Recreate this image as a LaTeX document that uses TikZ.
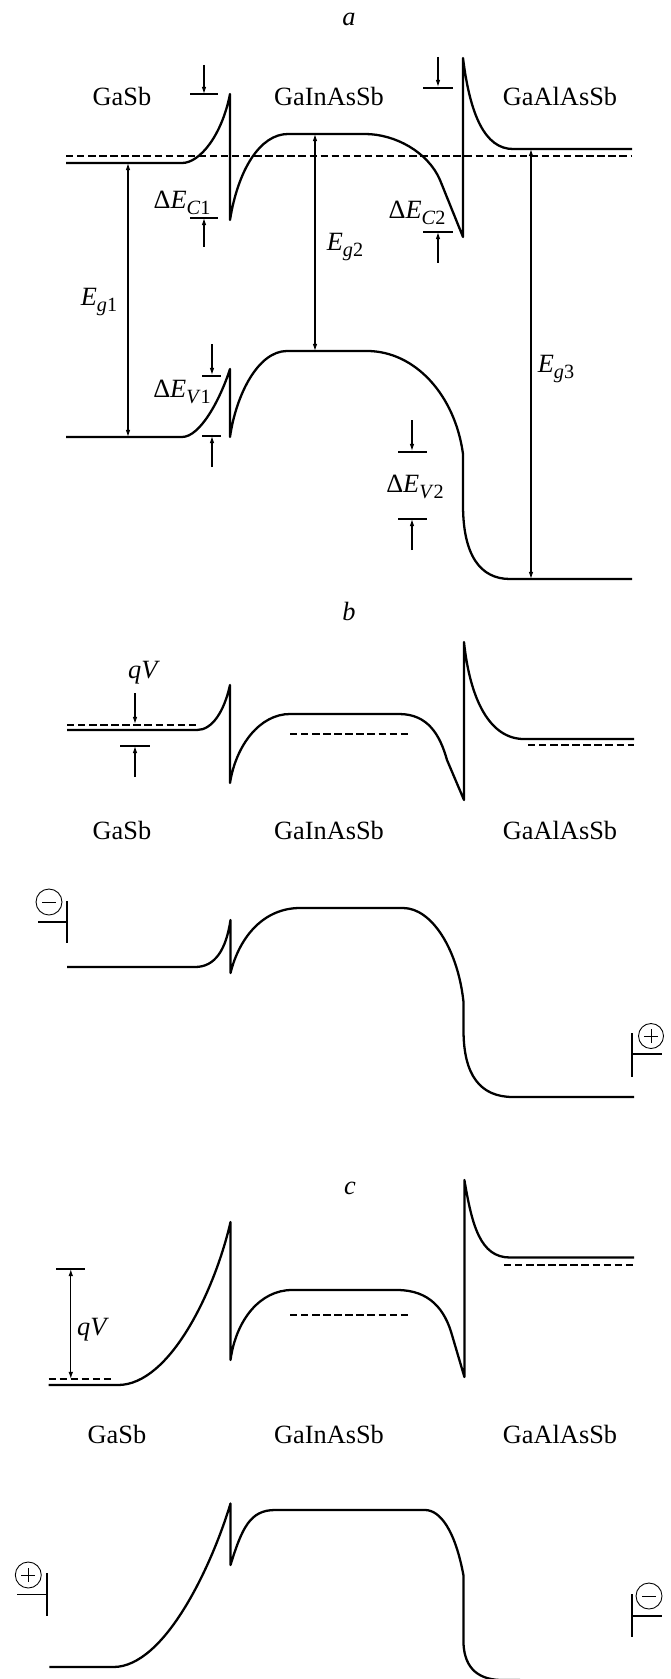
\documentclass[tikz,border=0pt]{standalone}
\usepackage{fontspec}
\setmainfont{Liberation Serif}
\usetikzlibrary{arrows.meta}
\newcommand\mysub[1]{\raisebox{-0.55ex}{\fontsize{11.5}{12}\selectfont #1}}
\begin{document}
\begin{tikzpicture}[x=0.02cm,y=-0.02cm,
  band/.style={line width=1.3pt, line join=round},
  thinl/.style={line width=0.65pt},
  fermi/.style={line width=0.6pt, dash pattern=on 4.2pt off 2.1pt},
  arr/.style={thinl,-{Latex[length=4pt,width=2.6pt]}},
  darr/.style={thinl,{Latex[length=4pt,width=2.6pt]}-{Latex[length=4pt,width=2.6pt]}},
  lbl/.style={font=\fontsize{15}{18}\selectfont, inner sep=0pt},
  ilbl/.style={font=\fontsize{15}{18}\selectfont\itshape, inner sep=0pt},
  bar/.style={line width=1.1pt},
  hbar/.style={line width=0.8pt},
  sign/.style={line width=0.5pt},
]
\useasboundingbox (0,0) rectangle (670,1679);
\clip (0,0) rectangle (670,1679);

% ================= panel a =================
\node[ilbl] (la) at (349,19) {a};
\node[lbl] (a1) at (122,96) {GaSb};
\node[lbl] (a2) at (329,96) {GaInAsSb};
\node[lbl] (a3) at (560,96) {GaAlAsSb};

% conduction band
\draw[band] (66,163) -- (182,163) .. controls (200,163) and (222,135) .. (230,94)
  -- (230,220) .. controls (238,170) and (260,134) .. (288,134) -- (365,134)
  .. controls (395,134) and (428,152) .. (440,180) -- (463,237) -- (463,58)
  .. controls (470,115) and (485,149) .. (513,149) -- (632,149);
\draw[fermi] (66,156) -- (632,156);
% valence band
\draw[band] (66,437) -- (182,437) .. controls (200,437) and (220,400) .. (230,369)
  -- (230,437) .. controls (236,395) and (258,351) .. (287,351) -- (367,351)
  .. controls (415,351) and (455,395) .. (463,454) -- (463,505)
  .. controls (463,555) and (480,579) .. (510,579) -- (632,579);

% Delta E_C1
\draw[arr] (204,65) -- (204,94);
\draw[thinl] (190,94) -- (218,94);
\draw[thinl] (190,218) -- (218,218);
\draw[arr] (204,247) -- (204,218);
\node[lbl] (dec1) at (182,203) {Δ\textit{E}\mysub{\textit{C}1}};
% Delta E_C2
\draw[arr] (438,57) -- (438,87);
\draw[thinl] (423,88) -- (453,88);
\draw[thinl] (423,232) -- (453,232);
\draw[arr] (438,263) -- (438,232);
\node[lbl] (dec2) at (417,213) {Δ\textit{E}\mysub{\textit{C}2}};
% gaps
\draw[darr] (128,163) -- (128,437);
\node[lbl] (eg1) at (99,302) {\textit{E}\mysub{\textit{g}1}};
\draw[darr] (315,134) -- (315,351);
\node[lbl] (eg2) at (345,247) {\textit{E}\mysub{\textit{g}2}};
\draw[darr] (531,149) -- (531,579);
\node[lbl] (eg3) at (556,369) {\textit{E}\mysub{\textit{g}3}};
% Delta E_V1
\draw[arr] (212,344) -- (212,375);
\draw[thinl] (202,376) -- (221,376);
\draw[thinl] (202,436) -- (221,436);
\draw[arr] (212,467) -- (212,436);
\node[lbl] (dev1) at (182,392) {Δ\textit{E}\mysub{\textit{V}1}};
% Delta E_V2
\draw[arr] (412,420) -- (412,451);
\draw[thinl] (398,452) -- (427,452);
\draw[thinl] (398,519) -- (427,519);
\draw[arr] (412,550) -- (412,519);
\node[lbl] (dev2) at (415,487) {Δ\textit{E}\mysub{\textit{V}2}};

% ================= panel b =================
\node[ilbl] (lb) at (349,611) {b};
\draw[fermi] (67,725) -- (197,725);
\draw[band] (67,730) -- (197,730) .. controls (212,730) and (224,712) .. (230,685)
  -- (230,783) .. controls (236,745) and (260,714) .. (290,714) -- (399,714)
  .. controls (428,714) and (440,735) .. (447,760) -- (464,800) -- (464,642)
  .. controls (470,700) and (490,739) .. (524,739) -- (634,739);
\draw[fermi] (290,734) -- (408,734);
\draw[fermi] (528,745) -- (634,745);
\node[lbl] (qv1) at (144,673) {\textit{qV}};
\draw[arr] (135,693) -- (135,724);
\draw[thinl] (120,746) -- (150,746);
\draw[arr] (135,777) -- (135,746);
\node[lbl] (b1) at (122,830) {GaSb};
\node[lbl] (b2) at (329,830) {GaInAsSb};
\node[lbl] (b3) at (560,830) {GaAlAsSb};

% minus contact
\draw[sign] (49,902) circle [radius=0.26cm];
\draw[sign] (42,902) -- (56,902);
\draw[hbar] (38,922) -- (67,922);
\draw[bar] (67,901) -- (67,943);
% plus contact
\draw[sign] (651,1036) circle [radius=0.25cm];
\draw[sign] (644,1036) -- (658,1036) (651,1029) -- (651,1043);
\draw[hbar] (632,1054) -- (662,1054);
\draw[bar] (632,1033) -- (632,1077);
% valence band b
\draw[band] (67,967) -- (195,967) .. controls (215,967) and (226,950) .. (230.5,920)
  -- (230.5,973) .. controls (240,935) and (265,908) .. (300,908) -- (403,908)
  .. controls (432,908) and (458,950) .. (463.5,1002) -- (463.5,1030)
  .. controls (463.5,1075) and (480,1097) .. (513,1097) -- (634,1097);

% ================= panel c =================
\node[ilbl] (lc) at (350,1188) {c};
\draw[band] (48.5,1385) -- (118,1385) .. controls (170,1385) and (215,1290) .. (230.5,1222)
  -- (230.5,1360) .. controls (236,1320) and (260,1290) .. (292,1290) -- (397,1290)
  .. controls (430,1290) and (445,1310) .. (452,1335) -- (464.4,1377) -- (464.4,1180)
  .. controls (472,1225) and (480,1257.5) .. (510,1257.5) -- (634,1257.5);
\draw[fermi] (48.5,1379) -- (114,1379);
\draw[fermi] (290,1315) -- (408,1315);
\draw[fermi] (504,1265) -- (634,1265);
\draw[thinl] (56,1269) -- (85,1269);
\draw[darr] (70.8,1269) -- (70.8,1379);
\node[lbl] (qv2) at (93,1330) {\textit{qV}};
\node[lbl] (c1) at (117,1434) {GaSb};
\node[lbl] (c2) at (329,1434) {GaInAsSb};
\node[lbl] (c3) at (560,1434) {GaAlAsSb};

% plus contact
\draw[sign] (28.3,1575) circle [radius=0.26cm];
\draw[sign] (21.3,1575) -- (35.3,1575) (28.3,1568) -- (28.3,1582);
\draw[hbar] (17.3,1594.3) -- (46.7,1594.3);
\draw[bar] (46.7,1573) -- (46.7,1616);
% minus contact
\draw[sign] (649,1596) circle [radius=0.26cm];
\draw[sign] (642,1596) -- (656,1596);
\draw[hbar] (632.3,1616) -- (662,1616);
\draw[bar] (632.3,1594) -- (632.3,1637);
% valence band c
\draw[band] (49.3,1667) -- (113.3,1667) .. controls (165,1667) and (212,1565) .. (230.5,1503.5)
  -- (230.5,1565) .. controls (242,1528) and (250,1510) .. (275,1510) -- (425,1510)
  .. controls (440,1510) and (455,1530) .. (463.4,1575) -- (463.4,1640)
  .. controls (463.4,1665) and (475,1679) .. (500,1680) -- (520,1680);
\end{tikzpicture}
\end{document}
